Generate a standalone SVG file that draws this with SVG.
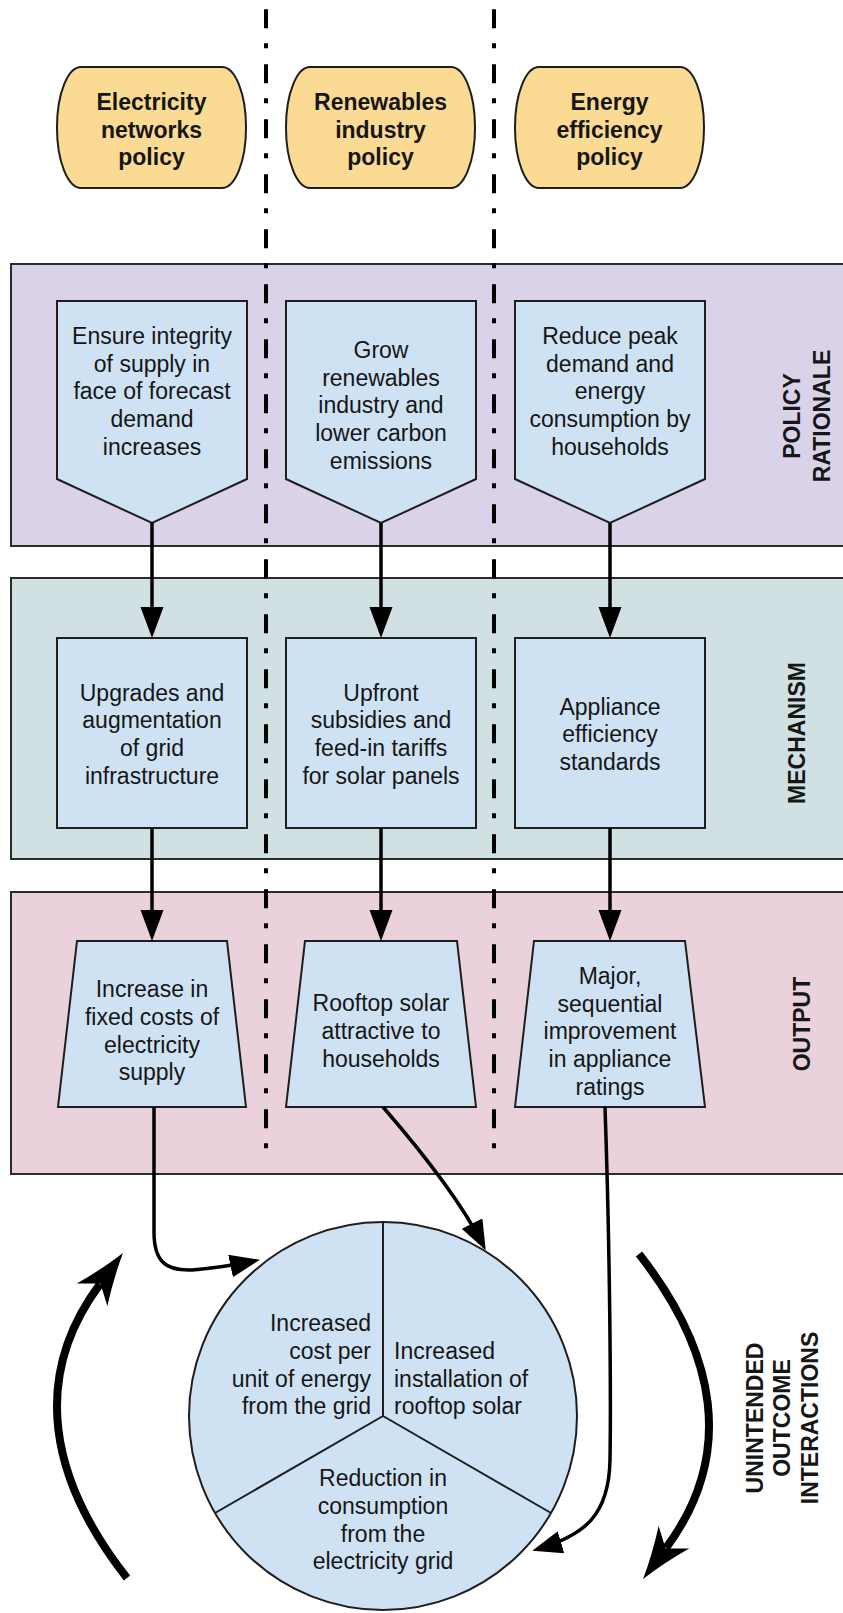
<svg xmlns="http://www.w3.org/2000/svg" width="843" height="1613" viewBox="0 0 843 1613">
<style>
text{font-family:"Liberation Sans",Arial,sans-serif;fill:#161616}
.t{font-size:23px;text-anchor:middle}
.b{font-size:23px;font-weight:bold;text-anchor:middle}
.panel{stroke:#2b2b2b;stroke-width:2}
.node{fill:#cfe2f3;stroke:#1e1e1e;stroke-width:2}
.pol{fill:#fbdb93;stroke:#1e1e1e;stroke-width:2}
.sep{stroke:#000;stroke-width:4;stroke-dasharray:19 15 5 16;fill:none}
.ln{stroke:#000;stroke-width:3.5;fill:none}
.big{stroke:#000;stroke-width:8;fill:none}
.spoke{stroke:#1e1e1e;stroke-width:2;fill:none}
</style>
<defs>
<marker id="ah" viewBox="0 0 30 23" refX="24" refY="11.5" markerWidth="30" markerHeight="23" markerUnits="userSpaceOnUse" orient="auto">
<path d="M0,0 L30,11.5 L0,23 Z" fill="#000"/>
</marker>
<path id="stealth" d="M0,0 Q-25,-7 -52,-19 L-38,0 L-52,19 Q-25,7 0,0 Z" fill="#000"/>
</defs>
<rect width="843" height="1613" fill="#fff"/>

<g id="panel-rationale"><rect class="panel" x="11" y="264" width="845" height="282" fill="#d9d2e9"/>
<text class="b" transform="translate(800,416) rotate(-90)">POLICY</text>
<text class="b" transform="translate(830,416) rotate(-90)">RATIONALE</text></g>
<g id="panel-mechanism"><rect class="panel" x="11" y="578" width="845" height="281" fill="#d0e0e3"/>
<text class="b" transform="translate(805,733) rotate(-90)">MECHANISM</text></g>
<g id="panel-output"><rect class="panel" x="11" y="892" width="845" height="282" fill="#ead1dc"/>
<text class="b" transform="translate(810,1024) rotate(-90)">OUTPUT</text></g>

<g id="separators">
<line class="sep" x1="266" y1="9.3" x2="266" y2="1152"/>
<line class="sep" x1="494" y1="9.3" x2="494" y2="1152"/>
</g>

<g id="policy-electricity"><rect class="pol" x="57" y="67" width="189" height="121" rx="24" ry="60"/>
<text class="b" x="151.5" y="110">Electricity</text><text class="b" x="151.5" y="137.5">networks</text><text class="b" x="151.5" y="165">policy</text></g>
<g id="policy-renewables"><rect class="pol" x="286" y="67" width="189" height="121" rx="24" ry="60"/>
<text class="b" x="380.5" y="110">Renewables</text><text class="b" x="380.5" y="137.5">industry</text><text class="b" x="380.5" y="165">policy</text></g>
<g id="policy-efficiency"><rect class="pol" x="515" y="67" width="189" height="121" rx="24" ry="60"/>
<text class="b" x="609.5" y="110">Energy</text><text class="b" x="609.5" y="137.5">efficiency</text><text class="b" x="609.5" y="165">policy</text></g>

<g id="rationale-1"><path class="node" d="M57,301 H247 V479 L152,523 L57,479 Z"/>
<text class="t" x="152" y="344">Ensure integrity</text><text class="t" x="152" y="371.7">of supply in</text><text class="t" x="152" y="399.4">face of forecast</text><text class="t" x="152" y="427.1">demand</text><text class="t" x="152" y="454.8">increases</text></g>
<g id="rationale-2"><path class="node" d="M286,301 H476 V479 L381,523 L286,479 Z"/>
<text class="t" x="381" y="358">Grow</text><text class="t" x="381" y="385.7">renewables</text><text class="t" x="381" y="413.4">industry and</text><text class="t" x="381" y="441.1">lower carbon</text><text class="t" x="381" y="468.8">emissions</text></g>
<g id="rationale-3"><path class="node" d="M515,301 H705 V479 L610,523 L515,479 Z"/>
<text class="t" x="610" y="344">Reduce peak</text><text class="t" x="610" y="371.7">demand and</text><text class="t" x="610" y="399.4">energy</text><text class="t" x="610" y="427.1">consumption by</text><text class="t" x="610" y="454.8">households</text></g>

<g id="mechanism-1"><rect class="node" x="57" y="638" width="190" height="190"/>
<text class="t" x="152" y="700.7">Upgrades and</text><text class="t" x="152" y="728.4">augmentation</text><text class="t" x="152" y="756.1">of grid</text><text class="t" x="152" y="783.8">infrastructure</text></g>
<g id="mechanism-2"><rect class="node" x="286" y="638" width="190" height="190"/>
<text class="t" x="381" y="700.7">Upfront</text><text class="t" x="381" y="728.4">subsidies and</text><text class="t" x="381" y="756.1">feed-in tariffs</text><text class="t" x="381" y="783.8">for solar panels</text></g>
<g id="mechanism-3"><rect class="node" x="515" y="638" width="190" height="190"/>
<text class="t" x="610" y="714.7">Appliance</text><text class="t" x="610" y="742.4">efficiency</text><text class="t" x="610" y="770.1">standards</text></g>

<g id="output-1"><path class="node" d="M77,941 H227 L246,1107 H58 Z"/>
<text class="t" x="152" y="997.3">Increase in</text><text class="t" x="152" y="1025">fixed costs of</text><text class="t" x="152" y="1052.7">electricity</text><text class="t" x="152" y="1080.4">supply</text></g>
<g id="output-2"><path class="node" d="M305,941 H457 L476,1107 H286 Z"/>
<text class="t" x="381" y="1011.3">Rooftop solar</text><text class="t" x="381" y="1039">attractive to</text><text class="t" x="381" y="1066.7">households</text></g>
<g id="output-3"><path class="node" d="M534,941 H685 L705,1107 H515 Z"/>
<text class="t" x="610" y="984">Major,</text><text class="t" x="610" y="1011.7">sequential</text><text class="t" x="610" y="1039.4">improvement</text><text class="t" x="610" y="1067.1">in appliance</text><text class="t" x="610" y="1094.8">ratings</text></g>

<g id="outcomes">
<circle cx="383" cy="1416" r="194" fill="#cfe2f3" stroke="#1e1e1e" stroke-width="2"/>
<path class="spoke" d="M383,1222 V1416 L215,1513 M383,1416 L551,1513"/>
<g style="text-anchor:end;font-size:23px"><text class="t" style="text-anchor:end" x="371" y="1331">Increased</text><text class="t" style="text-anchor:end" x="371" y="1359">cost per</text><text class="t" style="text-anchor:end" x="371" y="1386.5">unit of energy</text><text class="t" style="text-anchor:end" x="371" y="1414">from the grid</text></g>
<text class="t" style="text-anchor:start" x="394" y="1359">Increased</text><text class="t" style="text-anchor:start" x="394" y="1386.5">installation of</text><text class="t" style="text-anchor:start" x="394" y="1414">rooftop solar</text>
<text class="t" x="383" y="1486">Reduction in</text><text class="t" x="383" y="1514">consumption</text><text class="t" x="383" y="1541.5">from the</text><text class="t" x="383" y="1569">electricity grid</text>
</g>

<g id="label-unintended">
<text class="b" transform="translate(763,1418) rotate(-90)">UNINTENDED</text>
<text class="b" transform="translate(790,1418) rotate(-90)">OUTCOME</text>
<text class="b" transform="translate(818,1418) rotate(-90)">INTERACTIONS</text>
</g>

<g id="connectors">
<line class="ln" x1="152" y1="523" x2="152" y2="609"/><path d="M140.5,607 H163.5 L152,638 Z"/>
<line class="ln" x1="381" y1="523" x2="381" y2="609"/><path d="M369.5,607 H392.5 L381,638 Z"/>
<line class="ln" x1="610" y1="523" x2="610" y2="609"/><path d="M598.5,607 H621.5 L610,638 Z"/>
<line class="ln" x1="152" y1="828" x2="152" y2="912"/><path d="M140.5,910 H163.5 L152,941 Z"/>
<line class="ln" x1="381" y1="828" x2="381" y2="912"/><path d="M369.5,910 H392.5 L381,941 Z"/>
<line class="ln" x1="610" y1="828" x2="610" y2="912"/><path d="M598.5,910 H621.5 L610,941 Z"/>
<path class="ln" marker-end="url(#ah)" d="M154,1107 L154,1232 C154,1262 166,1271 192,1270 C215,1268 235,1265 254,1261"/>
<path class="ln" marker-end="url(#ah)" d="M383,1107 Q455,1190 483,1245"/>
<path class="ln" marker-end="url(#ah)" d="M605,1107 C610,1250 611,1400 610,1460 C609,1515 585,1535 538,1549"/>
<g id="cycle-left">
<path class="big" d="M127,1578 C50,1480 30,1378 100,1284"/>
<use href="#stealth" transform="translate(123,1253) rotate(-53.5)"/>
</g>
<g id="cycle-right" transform="rotate(180 383 1416)">
<path class="big" d="M127,1578 C50,1480 30,1378 100,1284"/>
<use href="#stealth" transform="translate(123,1253) rotate(-53.5)"/>
</g>
</g>
</svg>
